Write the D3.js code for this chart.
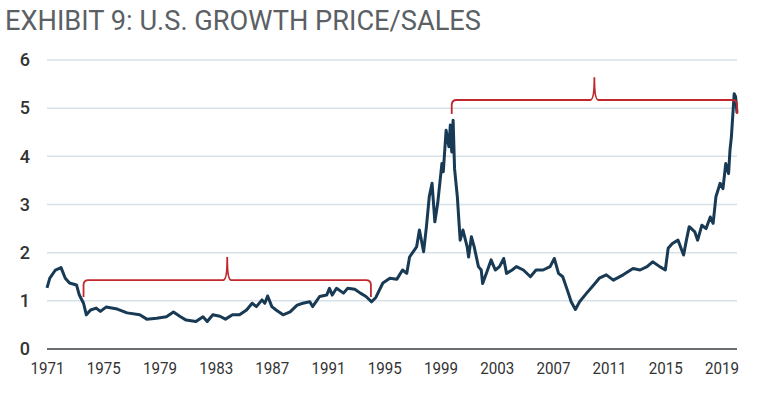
<!DOCTYPE html>
<html>
<head>
<meta charset="utf-8">
<script src="https://cdn.jsdelivr.net/npm/d3@7"></script>
<style>
  body { margin: 0; background: #fff; }
  svg { display: block; font-family: Roboto, "Liberation Sans", sans-serif; }
</style>
</head>
<body>
<div id="chart"></div>
<script>
// decimal years
const years = [1971.0, 1971.2, 1971.6, 1972.0, 1972.3, 1972.6, 1973.1, 1973.3, 1973.6, 1973.8,
  1974.1, 1974.5, 1974.8, 1975.2, 1976.0, 1976.7, 1977.6, 1978.1, 1978.8, 1979.5,
  1980.0, 1980.5, 1980.9, 1981.6, 1982.1, 1982.4, 1982.8, 1983.3, 1983.7, 1984.2,
  1984.7, 1985.2, 1985.6, 1985.9, 1986.3, 1986.5, 1986.7, 1987.0, 1987.3, 1987.8,
  1988.3, 1988.8, 1989.2, 1989.7, 1989.9, 1990.4, 1990.9, 1991.1, 1991.3, 1991.6,
  1992.1, 1992.4, 1992.9, 1993.3, 1993.7, 1994.1, 1994.4, 1994.9, 1995.4, 1995.9,
  1996.3, 1996.6, 1996.8, 1997.3, 1997.5, 1997.8, 1998.0, 1998.2, 1998.4, 1998.6,
  1998.8, 1999.1, 1999.2, 1999.4, 1999.6, 1999.7, 1999.8, 1999.9, 2000.0, 2000.2,
  2000.4, 2000.6, 2000.9, 2001.0, 2001.2, 2001.4, 2001.7, 2001.9, 2002.0, 2002.3,
  2002.6, 2002.9, 2003.2, 2003.5, 2003.7, 2004.1, 2004.4, 2004.9, 2005.4, 2005.8,
  2006.3, 2006.8, 2007.1, 2007.4, 2007.7, 2008.1, 2008.3, 2008.6, 2008.9, 2009.4,
  2009.9, 2010.3, 2010.8, 2011.3, 2012.0, 2012.7, 2013.2, 2013.7, 2014.1, 2014.6,
  2015.0, 2015.2, 2015.5, 2015.9, 2016.3, 2016.5, 2016.7, 2017.1, 2017.3, 2017.6,
  2017.9, 2018.2, 2018.4, 2018.6, 2018.9, 2019.1, 2019.3, 2019.5, 2019.6, 2019.7,
  2019.9, 2020.0, 2020.1];
const priceSales = [1.27, 1.47, 1.64, 1.69, 1.47, 1.37, 1.33, 1.12, 0.95, 0.71,
  0.81, 0.85, 0.78, 0.87, 0.83, 0.75, 0.71, 0.62, 0.64, 0.67,
  0.77, 0.67, 0.60, 0.57, 0.67, 0.57, 0.71, 0.68, 0.62, 0.71,
  0.71, 0.81, 0.95, 0.88, 1.02, 0.95, 1.10, 0.88, 0.81, 0.71,
  0.77, 0.91, 0.95, 0.98, 0.88, 1.09, 1.12, 1.26, 1.12, 1.26,
  1.16, 1.26, 1.24, 1.16, 1.09, 0.98, 1.07, 1.37, 1.47, 1.45,
  1.64, 1.57, 1.91, 2.12, 2.47, 2.02, 2.54, 3.16, 3.44, 2.64,
  3.02, 3.85, 3.68, 4.54, 4.20, 4.65, 4.09, 4.75, 3.75, 3.16,
  2.26, 2.47, 2.12, 1.91, 2.33, 2.12, 1.71, 1.64, 1.36, 1.60,
  1.85, 1.64, 1.71, 1.88, 1.57, 1.64, 1.71, 1.64, 1.50, 1.64,
  1.64, 1.71, 1.88, 1.57, 1.50, 1.16, 0.98, 0.82, 0.98, 1.16,
  1.33, 1.47, 1.54, 1.43, 1.54, 1.67, 1.64, 1.71, 1.81, 1.71,
  1.64, 2.09, 2.19, 2.26, 1.95, 2.26, 2.54, 2.43, 2.26, 2.57,
  2.50, 2.74, 2.61, 3.16, 3.44, 3.33, 3.85, 3.64, 4.13, 4.40,
  5.30, 5.24, 4.90];

const yearTicks = [1971, 1975, 1979, 1983, 1987, 1991, 1995, 1999, 2003, 2007, 2011, 2015, 2019];
const valueTicks = [0, 1, 2, 3, 4, 5, 6];

// red braces: span start/end, brace level, tip of the spike, end drop
const braceStart = [1973.6, 1999.8];
const braceEnd = [1994.05, 2020.1];
const braceLevel = [1.43, 5.17];
const braceTip = [1.91, 5.64];
const braceDrop = [1.08, 4.88];

const width = 760, height = 396;
const svg = d3.select("#chart").append("svg")
  .attr("width", width)
  .attr("height", height);

const x = d3.scaleLinear().domain([1971, 2020.1]).range([47, 737]);
const y = d3.scaleLinear().domain([0, 6]).range([349, 60]);

// title
svg.append("text")
  .attr("x", 5)
  .attr("y", 30)
  .attr("textLength", 476)
  .attr("lengthAdjust", "spacingAndGlyphs")
  .style("font-size", "28px")
  .style("font-weight", 400)
  .style("fill", "#5b6064")
  .text("EXHIBIT 9: U.S. GROWTH PRICE/SALES");

// gridlines
svg.append("g")
  .selectAll("line")
  .data(valueTicks.filter(d => d > 0))
  .enter()
  .append("line")
  .attr("x1", x(1971))
  .attr("x2", 737)
  .attr("y1", d => y(d))
  .attr("y2", d => y(d))
  .style("stroke", "#d6e2e8")
  .style("stroke-width", 1.5);

// y axis labels
const yAxis = svg.append("g")
  .attr("transform", "translate(30,0)")
  .call(d3.axisLeft(y).tickValues(valueTicks).tickFormat(d3.format("d")).tickSize(0).tickPadding(0));
yAxis.select(".domain").remove();
yAxis.selectAll("text")
  .style("font-size", "18px")
  .style("font-weight", 500)
  .style("font-family", "Roboto, sans-serif")
  .style("fill", "#333");

// zero line
svg.append("line")
  .attr("x1", x(1971))
  .attr("x2", 737)
  .attr("y1", y(0))
  .attr("y2", y(0))
  .style("stroke", "#6b6f72")
  .style("stroke-width", 2);

// x axis labels
const xAxis = svg.append("g")
  .attr("transform", "translate(0," + (y(0) + 5) + ")")
  .call(d3.axisBottom(x).tickValues(yearTicks).tickFormat(d3.format("d")).tickSize(0).tickPadding(8));
xAxis.select(".domain").remove();
xAxis.selectAll("text")
  .attr("textLength", 34)
  .attr("lengthAdjust", "spacingAndGlyphs")
  .style("font-size", "17px")
  .style("font-family", "Roboto, sans-serif")
  .style("fill", "#333");

// the series
const line = d3.line()
  .x((d, i) => x(years[i]))
  .y(d => y(d));

svg.append("path")
  .datum(priceSales)
  .attr("d", line)
  .style("fill", "none")
  .style("stroke", "#183a54")
  .style("stroke-width", 3)
  .style("stroke-linejoin", "round");

// braces
function bracePath(i) {
  const x0 = x(braceStart[i]), x1 = x(braceEnd[i]);
  const yl = y(braceLevel[i]), yt = y(braceTip[i]), yd = y(braceDrop[i]);
  const xm = (x0 + x1) / 2;
  const r = 5;
  const p = d3.path();
  p.moveTo(x0, yd);
  p.lineTo(x0, yl + r);
  p.quadraticCurveTo(x0, yl, x0 + r, yl);
  p.lineTo(xm - 4, yl);
  p.quadraticCurveTo(xm, yl, xm, yt);
  p.quadraticCurveTo(xm, yl, xm + 4, yl);
  p.lineTo(x1 - r, yl);
  p.quadraticCurveTo(x1, yl, x1, yl + r);
  p.lineTo(x1, yd);
  return p.toString();
}

svg.append("g")
  .selectAll("path")
  .data(braceStart)
  .enter()
  .append("path")
  .attr("d", (d, i) => bracePath(i))
  .style("fill", "none")
  .style("stroke", "#c1272d")
  .style("stroke-width", 1.8);
</script>
</body>
</html>
